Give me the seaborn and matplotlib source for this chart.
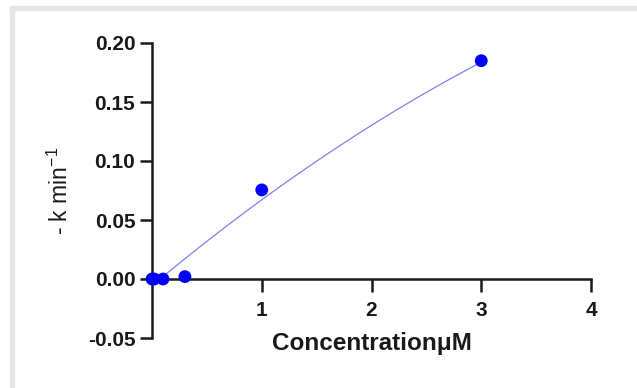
import matplotlib
matplotlib.use("Agg")
import matplotlib.pyplot as plt
import seaborn as sns
import pandas as pd
import numpy as np
from matplotlib.patches import Rectangle

# Data
conc = [0.0, 0.02, 0.1, 0.3, 1.0, 3.0]
rate = [0.0, 0.0, 0.0, 0.002, 0.0755, 0.185]

# fitted curve
fit_x = [0.1, 0.5, 1.0, 1.5, 2.0, 2.5, 3.0]
fit_y = [0.0, 0.034, 0.069, 0.099, 0.129, 0.157, 0.185]

y_ticks = [-0.05, 0.0, 0.05, 0.10, 0.15, 0.20]
x_ticks = [1, 2, 3, 4]

sns.set_style("ticks")
plt.rcParams['font.family'] = ['Liberation Sans', 'DejaVu Sans']

fig = plt.figure(figsize=(6.37, 3.88), dpi=100)
ax = fig.add_axes([152/637, 1-338/388, (591-152)/637, (338-43)/388])

# light grey frame on top and left
fig.patches.append(Rectangle((10/637, 0), 4/637, 1-6/388, transform=fig.transFigure,
                             color='#e6e6e6', zorder=0))
fig.patches.append(Rectangle((10/637, 1-10/388), 1-10/637, 4/388, transform=fig.transFigure,
                             color='#e6e6e6', zorder=0))

# smooth the read curve with a quadratic
coef = np.polyfit(fit_x, fit_y, 2)
xs = np.linspace(min(fit_x), max(fit_x), 120)
df_fit = pd.DataFrame({'x': xs, 'y': np.polyval(coef, xs)})
df_pts = pd.DataFrame({'x': conc, 'y': rate})

sns.lineplot(data=df_fit, x='x', y='y', ax=ax, color='#8080ee', linewidth=0.9,
             sort=True, estimator=None)
sns.scatterplot(data=df_pts, x='x', y='y', ax=ax, color='#0000ff', s=85,
                edgecolor='none', clip_on=False, zorder=5)

ax.set_xlim(0, 4)
ax.set_ylim(-0.05, 0.20)
ax.set_xticks(x_ticks)
ax.set_yticks(y_ticks)
ax.set_yticklabels([f"{v:.2f}" for v in y_ticks])

ax.spines['top'].set_visible(False)
ax.spines['right'].set_visible(False)
ax.spines['bottom'].set_position(('data', 0))
for s in ('left', 'bottom'):
    ax.spines[s].set_linewidth(1.8)
    ax.spines[s].set_color('#1a1a1a')

ax.tick_params(axis='both', length=9, width=1.8, color='#1a1a1a', labelsize=15,
               labelcolor='#1a1a1a')
ax.tick_params(axis='y', pad=3)
ax.tick_params(axis='x', pad=7)
for lab in ax.get_xticklabels() + ax.get_yticklabels():
    lab.set_fontweight('bold')

ax.set_xlabel('ConcentrationμM', fontsize=17.5, fontweight='bold', color='#1a1a1a')
ax.xaxis.set_label_coords(0.5, 0.02)
ax.set_ylabel('- k min$^{\\mathregular{-1}}$', fontsize=16.5, color='#1a1a1a')
ax.yaxis.set_label_coords(-0.18, 0.5)

fig.savefig('out.png', dpi=100, facecolor='white')
